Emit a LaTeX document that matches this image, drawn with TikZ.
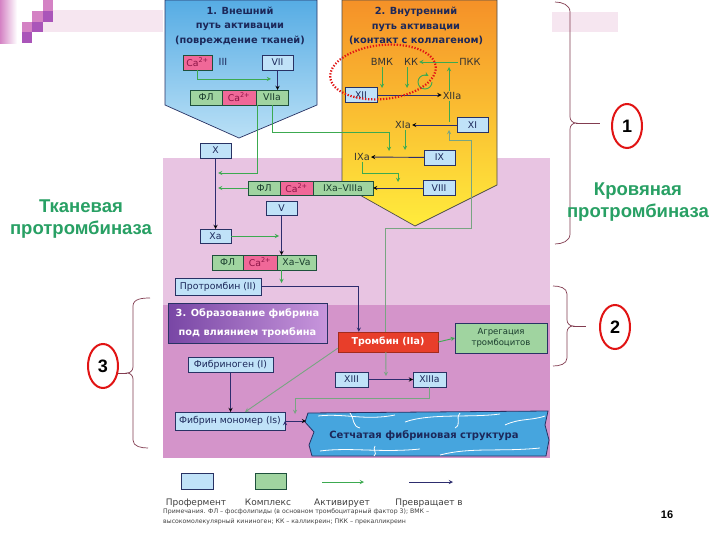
\documentclass[tikz,border=0pt]{standalone}
\usepackage{fontspec}
\setmainfont{DejaVu Sans}
\newfontfamily\arialfont{Liberation Sans}
\usetikzlibrary{arrows,positioning,calc,shapes.geometric}

\definecolor{profill}{RGB}{192,226,248}
\definecolor{navyline}{RGB}{40,50,100}
\definecolor{navytext}{RGB}{28,40,90}
\definecolor{cmpxfill}{RGB}{160,212,160}
\definecolor{cmpxline}{RGB}{30,80,60}
\definecolor{cmpxtext}{RGB}{25,60,45}
\definecolor{cafill}{RGB}{240,104,152}
\definecolor{catext}{RGB}{140,20,70}
\definecolor{actline}{RGB}{60,170,80}
\definecolor{convline}{RGB}{45,45,110}
\definecolor{grayline}{RGB}{120,165,130}
\definecolor{bgpink}{RGB}{232,196,226}
\definecolor{bgmag}{RGB}{212,148,202}
\definecolor{ringred}{RGB}{225,20,20}
\definecolor{bracecol}{RGB}{130,60,80}
\definecolor{protgreen}{RGB}{40,160,100}
\definecolor{decopink}{RGB}{212,130,196}
\definecolor{decopurp}{RGB}{170,85,185}
\definecolor{decobar}{RGB}{246,230,240}
\definecolor{thrred}{RGB}{232,62,42}

\tikzset{prof/.style={draw=navyline, fill=profill, text=navytext, font=\fontsize{9.3}{10}\selectfont, inner sep=1pt, outer sep=0pt, minimum height=15pt, line width=0.8pt}}
\tikzstyle{cmpx}=[prof, draw=cmpxline, fill=cmpxfill, text=cmpxtext]
\tikzstyle{caion}=[prof, draw=cmpxline, fill=cafill, text=catext]
\tikzstyle{lbl}=[inner sep=1pt, font=\fontsize{9.8}{10}\selectfont, text=black!80]
\tikzstyle{act}=[draw=actline, line width=0.9pt]
\tikzstyle{conv}=[draw=convline, line width=0.9pt]
\tikzstyle{grl}=[draw=grayline, line width=0.9pt]
\tikzstyle{ttl}=[align=center, text=navytext, font=\bfseries\fontsize{9.8}{14.5}\selectfont]
\tikzstyle{numring}=[ellipse, draw=ringred, line width=2pt, fill=white, minimum width=30pt, minimum height=44pt, inner sep=0pt, font=\arialfont\bfseries\fontsize{18}{18}\selectfont]
\tikzstyle{grlbl}=[align=center, text=protgreen, font=\arialfont\bfseries\fontsize{18.5}{22}\selectfont]
\tikzstyle{brace}=[draw=bracecol, line width=0.7pt]
\tikzstyle{lgtext}=[anchor=base, font=\fontsize{9}{9}\selectfont, text=black!75]

\begin{document}
\begin{tikzpicture}[x=1pt, y=-1pt, >=stealth]
\useasboundingbox (0,0) rectangle (720,540);
\fill[white] (0,0) rectangle (720,540);

% slide decoration
\fill[decobar] (43,10) rectangle (163,32);
\fill[decobar] (552,12) rectangle (618,32);
\shade[left color=decopink, right color=white] (0,0) rectangle (17,44);
\fill[decopink] (22,22) rectangle (32,32);
\fill[decopurp] (22,32) rectangle (32,43);
\fill[decopink] (32,11) rectangle (43,22);
\fill[decopurp] (32,22) rectangle (43,32);
\fill[decopink] (43,0) rectangle (53,11);
\fill[decopurp] (43,11) rectangle (53,22);

% backgrounds
\fill[bgpink] (163,158) rectangle (550,305);
\fill[bgmag] (163,305) rectangle (550,458);

% two activation pathways
\shadedraw[top color={rgb,255:red,86;green,172;blue,228}, bottom color={rgb,255:red,186;green,224;blue,246}, draw=navyline, line width=0.7pt]
  (165,0) -- (317,0) -- (317,105) -- (239,138) -- (165,105) -- cycle;
\shadedraw[top color={rgb,255:red,245;green,145;blue,40}, middle color={rgb,255:red,255;green,205;blue,50}, bottom color={rgb,255:red,255;green,236;blue,60}, draw=black!70, line width=0.7pt]
  (342,0) -- (497,0) -- (497,185) -- (415,226) -- (342,185) -- cycle;

\node[ttl] (T1) at (240,26) {1. Внешний\\путь активации\\(повреждение тканей)};
\node[ttl] (T2) at (416,26) {2. Внутренний\\путь активации\\(контакт с коллагеном)};

% junction points
\coordinate (j7) at (271,79);
\coordinate (k9) at (389,132);
\coordinate (j9) at (389,151);
\coordinate (jx1) at (218,173);
\coordinate (jx2) at (218,188);
\coordinate (jxa) at (279,236);
\coordinate (jpt) at (281.5,283);
\coordinate (t1) at (471,228);
\coordinate (t2) at (449,140);
\coordinate (j11) at (449,130);
\coordinate (j13) at (386,376);
\coordinate (j12) at (449,67);
\coordinate (j12b) at (449,122);
\coordinate (a1) at (382,88);
\coordinate (a2) at (407,88);
\coordinate (j11b) at (405,150);
\coordinate (k8) at (398,173);
\coordinate (j8) at (398,182);
\coordinate (jn1) at (295,398);
\coordinate (jn2) at (295,414);
\coordinate (jnet) at (306,421);

% fibrin net
\shadedraw[top color={rgb,255:red,70;green,165;blue,222}, middle color={rgb,255:red,225;green,243;blue,252}, bottom color={rgb,255:red,70;green,165;blue,222}, draw=navyline, line width=0.8pt]
  (308,413) -- (548,411) -- (545,425) -- (549,440) -- (546,456) -- (312,456) -- (309,445) -- (314,432) -- (305,422) -- cycle;
\draw[white, line width=0.8pt] (318,416) .. controls (345,413) and (365,421) .. (395,415);
\draw[white, line width=0.8pt] (405,422) .. controls (430,413) and (470,418) .. (500,414);
\draw[white, line width=0.8pt] (350,413) .. controls (355,420) and (352,426) .. (360,428);
\draw[white, line width=0.8pt] (460,413) .. controls (455,419) and (462,424) .. (455,428);
\draw[white, line width=0.8pt] (505,425) .. controls (520,418) and (530,421) .. (545,416);
\draw[white, line width=0.8pt] (320,451) .. controls (350,447) and (380,453) .. (420,449);
\draw[white, line width=0.8pt] (440,455) .. controls (470,447) and (500,452) .. (540,448);
\draw[white, line width=0.8pt] (375,446) .. controls (372,450) and (378,453) .. (374,456);
\node[font=\bfseries\fontsize{10}{10}\selectfont, text=navytext] (netlbl) at (424,436) {Сетчатая фибриновая структура};

% external pathway
\node[caion, minimum width=29pt] (Ca1) at (197.5,62.5) {Ca\textsuperscript{2+}};
\node[lbl, text=navytext] (f3) at (223,62) {III};
\node[prof, minimum width=31pt] (F7) at (277.5,62.5) {VII};
\node[cmpx, minimum width=32pt] (C1fl) at (206,97.5) {ФЛ};
\node[caion, minimum width=34pt, right=0pt of C1fl] (C1ca) {Ca\textsuperscript{2+}};
\node[cmpx, minimum width=32pt, right=0pt of C1ca] (C1v) {VIIa};
\node[prof, minimum width=31pt] (FX) at (215.5,150.5) {X};

% internal pathway
\node[lbl] (vmk) at (382,62) {ВМК};
\node[lbl] (kk) at (411,62) {КК};
\node[lbl] (pkk) at (470,62) {ПКК};
\node[prof, minimum width=32pt] (F12) at (361,95) {XII};
\node[lbl] (f12a) at (452,96) {XIIa};
\node[prof, minimum width=31pt] (F11) at (472.5,125) {XI};
\node[lbl] (f11a) at (403,125) {XIa};
\node[prof, minimum width=31pt] (F9) at (439.5,157.5) {IX};
\node[lbl] (f9a) at (362,157) {IXa};
\node[prof, minimum width=32pt] (F8) at (439,188) {VIII};

% prothrombinase
\node[cmpx, minimum width=32pt, minimum height=14pt] (C2fl) at (264,188) {ФЛ};
\node[caion, minimum width=33pt, minimum height=14pt, right=0pt of C2fl] (C2ca) {Ca\textsuperscript{2+}};
\node[cmpx, minimum width=60pt, minimum height=14pt, right=0pt of C2ca] (C2v) {IXa–VIIIa};
\node[prof, minimum width=31pt, minimum height=14pt] (FV) at (281.5,208) {V};
\node[prof, minimum width=31pt, minimum height=14pt] (FXa) at (215.5,236) {Xa};
\node[cmpx, minimum width=31pt] (C3fl) at (227.5,262.5) {ФЛ};
\node[caion, minimum width=34pt, right=0pt of C3fl] (C3ca) {Ca\textsuperscript{2+}};
\node[cmpx, minimum width=39pt, right=0pt of C3ca] (C3v) {Xa–Va};
\node[prof, minimum width=86pt, minimum height=17pt] (FII) at (218,286.5) {Протромбин (II)};

% fibrin formation
\node[draw=navyline, line width=0.8pt, left color={rgb,255:red,120;green,70;blue,165}, right color={rgb,255:red,200;green,150;blue,220}, minimum width=159pt, minimum height=40pt, align=center, text=white, font=\bfseries\fontsize{9.8}{19}\selectfont] (T3) at (247.5,323) {3. Образование фибрина\\под влиянием тромбина};
\node[fill=thrred, draw=thrred!70!black, minimum width=100pt, minimum height=20pt, inner sep=1pt, text=white, font=\bfseries\fontsize{9.5}{10}\selectfont] (Thr) at (388,342) {Тромбин (IIa)};
\node[cmpx, draw=navyline, minimum width=92pt, minimum height=30pt, align=center, font=\fontsize{8.5}{11}\selectfont] (Agg) at (501,338) {Агрегация\\тромбоцитов};
\node[prof, minimum width=85pt] (FI) at (230.5,364.5) {Фибриноген (I)};
\node[prof, minimum width=110pt, minimum height=18pt] (FIs) at (230,421) {Фибрин мономер (Is)};
\node[prof, minimum width=33pt] (F13) at (351.5,379.5) {XIII};
\node[prof, minimum width=33pt] (F13a) at (429.5,379.5) {XIIIa};

% activation (green)
\draw[act,->] (Ca1.south) |- (j7);
\draw[act,->] (C1v.south) |- (k9) -- (j9);
\draw[act,->] ([xshift=1]C1v.south west) |- (jx1);
\draw[act,->] (C2fl.west) -- (jx2);
\draw[act,->] (FXa.east) -- (jxa);
\draw[act,->] (FV.south |- C3v.south) -- (jpt);
\draw[act,->] (vmk.south) -- (a1);
\draw[act,->] ([xshift=-4]kk.south) -- (a2);
\draw[act,->] (pkk.west) -- (kk.east);
\draw[act,->] (432,82) arc[start angle=0, end angle=300, radius=7];
\draw[act,->] (f12a.north -| j12) -- (j12);
\draw[act] (f12a.south -| j12b) -- (j12b);
\draw[act,->] ([xshift=2]f11a.south) -- (j11b);
\draw[act,->] (f9a.south) |- (k8) -- (j8);
\draw[act,->] (Thr.east) -- (Agg.west);
\draw[grl,->] ([yshift=4]Thr.south west) -- ([xshift=15]FIs.north);
\draw[grl,->] ([xshift=48]Thr.north west) |- (t1) |- (t2) -- (j11);
\draw[grl,->] ([xshift=48]Thr.south west) -- (j13);
\draw[grl,->] (F13a.south) |- (jn1) -- (jn2);

% conversion (navy)
\path[conv,->] (F7.south) edge (F7.south |- C1v.north)
  (FX) edge (FXa)
  (FV.south) edge (FV.south |- C3v.north)
  (F12.east) edge (F12.east -| f12a.west)
  (F11) edge (f11a)
  (F9) edge (f9a)
  (F8) edge (C2v)
  (FI.south) edge (FI.south |- FIs.north)
  (FIs.east) edge (jnet)
  (F13) edge (F13a);
\draw[conv,->] (FII.east) -| ([xshift=21]Thr.north west);

% contact activation area
\draw[ringred, line width=2.2pt, dash pattern=on 1.3pt off 1.7pt, rotate around={6:(383,72)}] (383,72) ellipse [x radius=53, y radius=27];

% braces and numbers
\draw[brace] (555,2) to[out=0,in=90] (570,12) -- (570,117) to[out=-90,in=180] (576,123) to[out=180,in=90] (570,129) -- (570,234) to[out=-90,in=0] (555,244);
\draw[brace] (553,286) to[out=0,in=90] (567,294) -- (567,320) to[out=-90,in=180] (573,326) to[out=180,in=90] (567,332) -- (567,358) to[out=-90,in=0] (553,366);
\draw[brace] (150,298) to[out=180,in=90] (133,306) -- (133,367) to[out=-90,in=0] (127,373) to[out=0,in=90] (133,379) -- (133,440) to[out=-90,in=180] (148,448);
\coordinate (b1) at (576,123);
\coordinate (b1e) at (600,123);
\coordinate (b2) at (573,326);
\coordinate (b2e) at (586,326);
\coordinate (b3) at (127,373);
\coordinate (b3e) at (118,373);
\draw[brace] (b1) -- (b1e);
\draw[brace] (b2) -- (b2e);
\draw[brace] (b3) -- (b3e);
\node[numring] (n1) at (627,126) {1};
\node[numring] (n2) at (615,327) {2};
\node[numring] (n3) at (103,366) {3};
\node[grlbl] (kprot) at (638,202) {Кровяная\\протромбиназа};
\node[grlbl] (tprot) at (81,219) {Тканевая\\протромбиназа};

% legend
\node[prof, minimum width=32pt, minimum height=16pt] (LgP) at (197,481) {};
\node[cmpx, minimum width=31pt, minimum height=16pt] (LgC) at (270.5,481) {};
\coordinate (lga1) at (322,482);
\coordinate (lga2) at (364,482);
\coordinate (lgc1) at (409,482);
\coordinate (lgc2) at (453,482);
\draw[act,->] (lga1) -- (lga2);
\draw[conv,->] (lgc1) -- (lgc2);
\node[lgtext] (LgPt) at (196,505) {Профермент};
\node[lgtext] (LgCt) at (268,505) {Комплекс};
\node[lgtext] (LgAt) at (342,505) {Активирует};
\node[lgtext] (LgVt) at (429,505) {Превращает в};
\node[anchor=west, align=left, inner sep=0pt, text=black!75, font=\fontsize{6.2}{10}\selectfont] (note) at (163,517) {Примечания. ФЛ – фосфолипиды (в основном тромбоцитарный фактор 3); ВМК –\\высокомолекулярный кининоген; КК – калликреин; ПКК – прекалликреин};
\node[font=\arialfont\bfseries\fontsize{11}{11}\selectfont] (pg) at (667,515) {16};
\end{tikzpicture}
\end{document}
